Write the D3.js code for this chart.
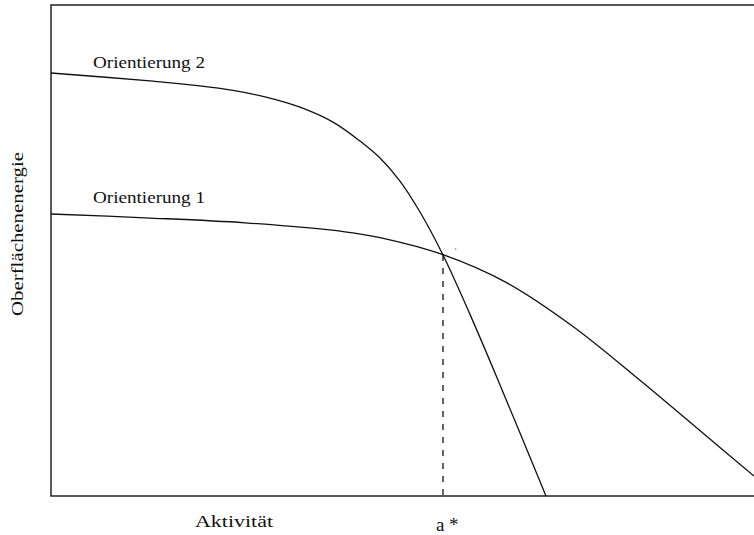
<!DOCTYPE html>
<html>
<head>
<meta charset="utf-8">
<script src="https://cdn.jsdelivr.net/npm/d3@7"></script>
<style>
  body { margin: 0; background: #fff; }
  text { font-family: "Liberation Serif", "Times New Roman", serif; fill: #111; }
</style>
</head>
<body>
<script>
// DATA (activity 0..1 along x, surface energy 0..1 along y)
var orient2_x = [0, 0.1408, 0.2119, 0.2589, 0.3073, 0.3542, 0.4011, 0.4395, 0.4680, 0.4964, 0.5249, 0.5576, 0.5960, 0.6387, 0.7041];
var orient2_y = [0.8615, 0.8454, 0.8352, 0.8259, 0.8120, 0.7919, 0.7615, 0.7230, 0.6884, 0.6415, 0.5784, 0.4908, 0.3699, 0.2263, 0];
var orient1_x = [0, 0.1337, 0.2760, 0.4182, 0.4680, 0.5576, 0.6486, 0.7425, 0.8378, 0.9331, 1.0];
var orient1_y = [0.5743, 0.5666, 0.5564, 0.5381, 0.5261, 0.4914, 0.4340, 0.3452, 0.2356, 0.1210, 0.0407];
var aStar = {x: 0.5576, y: 0.491};
var labels = {series1: "Orientierung 1", series2: "Orientierung 2", xLabel: "Aktivität", yLabel: "Oberflächenenergie", xMark: "a*"};

// svg + margins
var svg = d3.select("body")
    .append("svg")
    .attr("width", 754)
    .attr("height", 535);

const margin = {top: 5, right: 0, bottom: 39, left: 51};
const width = +svg.attr("width") - margin.left - margin.right;
const height = +svg.attr("height") - margin.top - margin.bottom;

// scales
const xScale = d3.scaleLinear().domain([0, 1]).range([0, width]);
const yScale = d3.scaleLinear().domain([0, 1]).range([height, 0]);

const g = svg.append("g")
    .attr("transform", "translate(" + margin.left + "," + margin.top + ")");

// frame (right edge falls outside the picture)
g.append("rect")
    .attr("x", 0).attr("y", 0)
    .attr("width", width + 4).attr("height", height)
    .attr("fill", "none")
    .attr("stroke", "#222")
    .attr("stroke-width", 1.5);

const line = d3.line()
    .x(d => xScale(d[0]))
    .y(d => yScale(d[1]))
    .curve(d3.curveCatmullRom.alpha(0.5));

var series = [d3.zip(orient1_x, orient1_y), d3.zip(orient2_x, orient2_y)];

g.selectAll("path.curve").data(series)
    .enter()
    .append("path")
    .attr("class", "curve")
    .attr("d", line)
    .attr("fill", "none")
    .attr("stroke", "#111")
    .attr("stroke-width", 1.3);

// dashed drop line at a*
g.append("line")
    .attr("x1", xScale(aStar.x)).attr("x2", xScale(aStar.x))
    .attr("y1", yScale(aStar.y)).attr("y2", yScale(0))
    .attr("stroke", "#111")
    .attr("stroke-width", 1.3)
    .attr("stroke-dasharray", "6,7");

// tiny speck next to the crossing
g.append("rect")
    .attr("x", xScale(0.575)).attr("y", yScale(0.504))
    .attr("width", 1).attr("height", 1)
    .attr("fill", "#333");

// labels
svg.append("text").attr("x", 93).attr("y", 68)
    .attr("font-size", 17).attr("textLength", 112).attr("lengthAdjust", "spacingAndGlyphs")
    .text(labels.series2);
svg.append("text").attr("x", 93).attr("y", 203)
    .attr("font-size", 17).attr("textLength", 112).attr("lengthAdjust", "spacingAndGlyphs")
    .text(labels.series1);
svg.append("text").attr("x", 195).attr("y", 527)
    .attr("font-size", 17).attr("textLength", 78).attr("lengthAdjust", "spacingAndGlyphs")
    .text(labels.xLabel);

// a* label: letter and star sit apart in the original
var mark = svg.append("text").attr("y", 531).attr("font-size", 19);
mark.selectAll("tspan").data(labels.xMark.split(""))
    .enter()
    .append("tspan")
    .attr("x", (d, i) => i === 0 ? 436 : 449)
    .text(d => d);

svg.append("text")
    .attr("transform", "translate(23,316) rotate(-90)")
    .attr("font-size", 17).attr("textLength", 164).attr("lengthAdjust", "spacingAndGlyphs")
    .text(labels.yLabel);
</script>
</body>
</html>
